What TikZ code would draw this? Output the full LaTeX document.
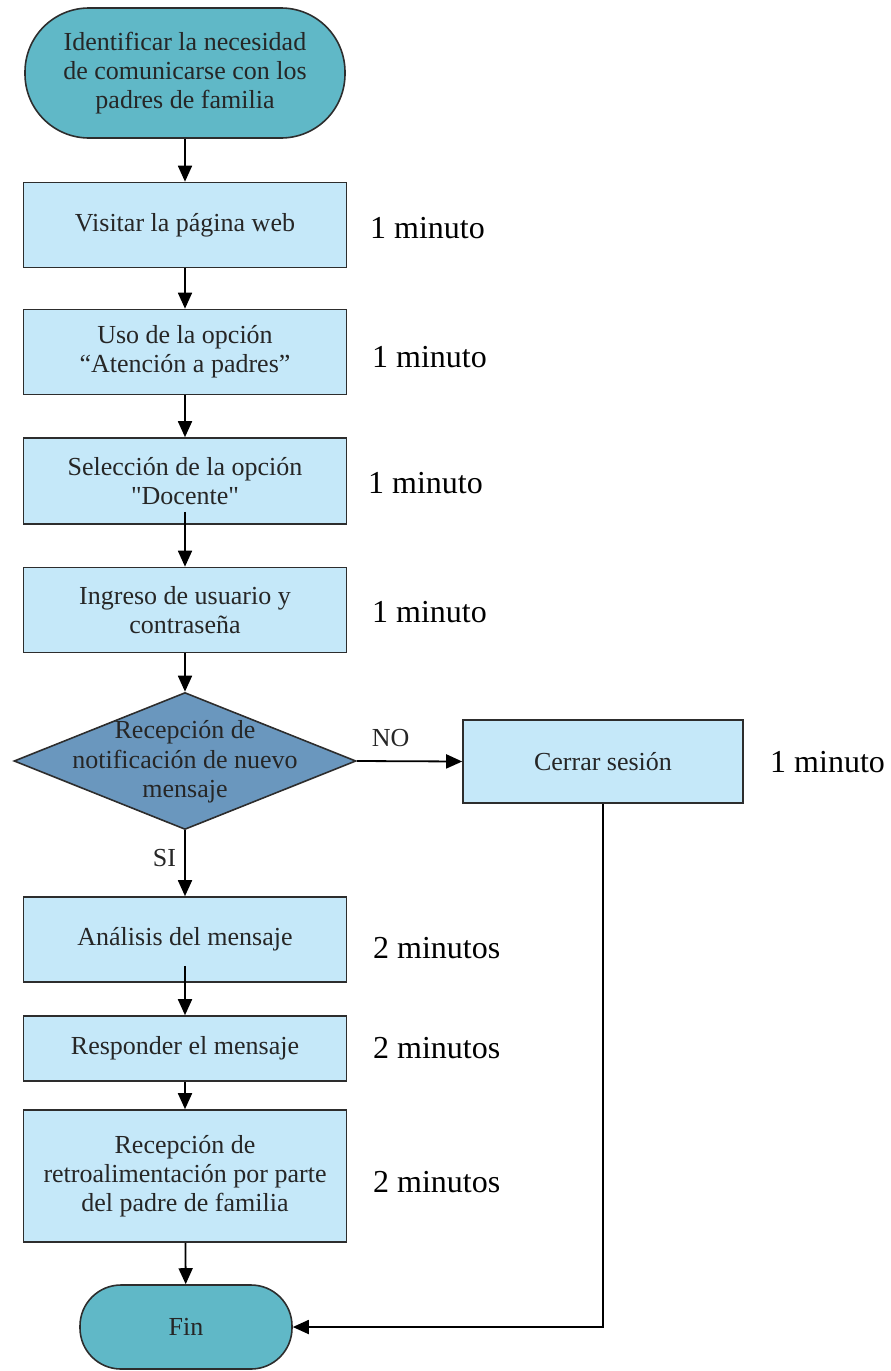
\documentclass[tikz,border=0pt]{standalone}
\usepackage{fontspec}
\setmainfont{Liberation Serif}
\usetikzlibrary{shapes.geometric,arrows.meta}
\newcommand\straightq{\XeTeXglyph\XeTeXcharglyph34\relax}
\definecolor{termfill}{RGB}{96,184,199}
\definecolor{boxfill}{RGB}{197,232,249}
\definecolor{decfill}{RGB}{106,151,190}
\definecolor{edgecol}{RGB}{45,45,45}
\tikzset{
  base/.style={draw=edgecol, line width=1.6pt, align=center, font=\fontsize{26}{29}\selectfont, text=black!85, inner sep=0pt},
  term/.style={base, fill=termfill, rectangle},
  proc/.style={base, fill=boxfill, rectangle, minimum width=323pt},
  decision/.style={draw=edgecol, line width=1.6pt, fill=decfill, diamond, minimum width=342pt, minimum height=137pt, inner sep=0pt},
  dectext/.style={align=center, font=\fontsize{26}{29.5}\selectfont, text=black!85, inner sep=0pt},
  conn/.style={line width=1.8pt, -{Triangle[length=16pt,width=14pt]}},
  mins/.style={font=\fontsize{32}{36}\selectfont, anchor=west, inner sep=0pt},
  lbl/.style={font=\fontsize{26}{29}\selectfont, text=black!85, inner sep=0pt}
}
\begin{document}
\begin{tikzpicture}[x=1pt,y=-1pt]
\useasboundingbox (0,0) rectangle (891,1371);
\node[term, minimum width=320pt, minimum height=130pt, rounded corners=64pt] (start) at (185,73)
  {Identificar la necesidad\\de comunicarse con los\\padres de familia};
\node[proc, minimum height=85pt] (v1) at (185,225) {Visitar la página web};
\node[proc, minimum height=85pt] (v2) at (185,352) {Uso de la opción\\“Atención a padres”};
\node[proc, minimum height=86pt] (v3) at (185,481) {Selección de la opción\\\straightq Docente\straightq};
\node[proc, minimum height=85pt] (v4) at (185,610) {Ingreso de usuario y\\contraseña};
\node[decision] (dec) at (185,761) {};
\node[dectext] (dect) at (185,762) {Recepción de\\notificación de nuevo\\mensaje};
\node[proc, minimum width=280pt, minimum height=83pt] (cerrar) at (603,761.5) {Cerrar sesión};
\node[proc, minimum height=85pt] (an) at (185,939.5) {Análisis del mensaje};
\node[proc, minimum height=65pt] (resp) at (185,1048.5) {Responder el mensaje};
\node[proc, minimum height=132pt] (recep) at (185,1176) {Recepción de\\retroalimentación por parte\\del padre de familia};
\node[term, minimum width=212pt, minimum height=84pt, rounded corners=41pt] (fin) at (186,1327) {Fin};

\node[mins] (m1) at (370,228) {1 minuto};
\node[mins] (m2) at (372,357) {1 minuto};
\node[mins] (m3) at (368,483) {1 minuto};
\node[mins] (m4) at (372,612) {1 minuto};
\node[mins] (m5) at (770,762) {1 minuto};
\node[mins] (m6) at (373,948) {2 minutos};
\node[mins] (m7) at (373,1048) {2 minutos};
\node[mins] (m8) at (373,1182) {2 minutos};

\draw[conn] (start) -- (v1);
\draw[conn] (v1) -- (v2);
\draw[conn] (v2) -- (v3);
\draw[conn] ([yshift=13pt]v3.south) -- (v4.north);
\draw[conn] (v4) -- (dec.north);
\draw[conn] (dec.east) -- node[lbl, above=14pt, pos=0.32] (no) {NO} (cerrar.west);
\draw[conn] (dec.south) -- node[lbl, left=8pt, pos=0.42] (si) {SI} (an.north);
\draw[conn] ([yshift=17pt]an.south) -- (resp.north);
\draw[conn] (resp) -- (recep);
\draw[conn] (recep) -- (fin);
\draw[conn] (cerrar.south) |- (fin.east);
\end{tikzpicture}
\end{document}
